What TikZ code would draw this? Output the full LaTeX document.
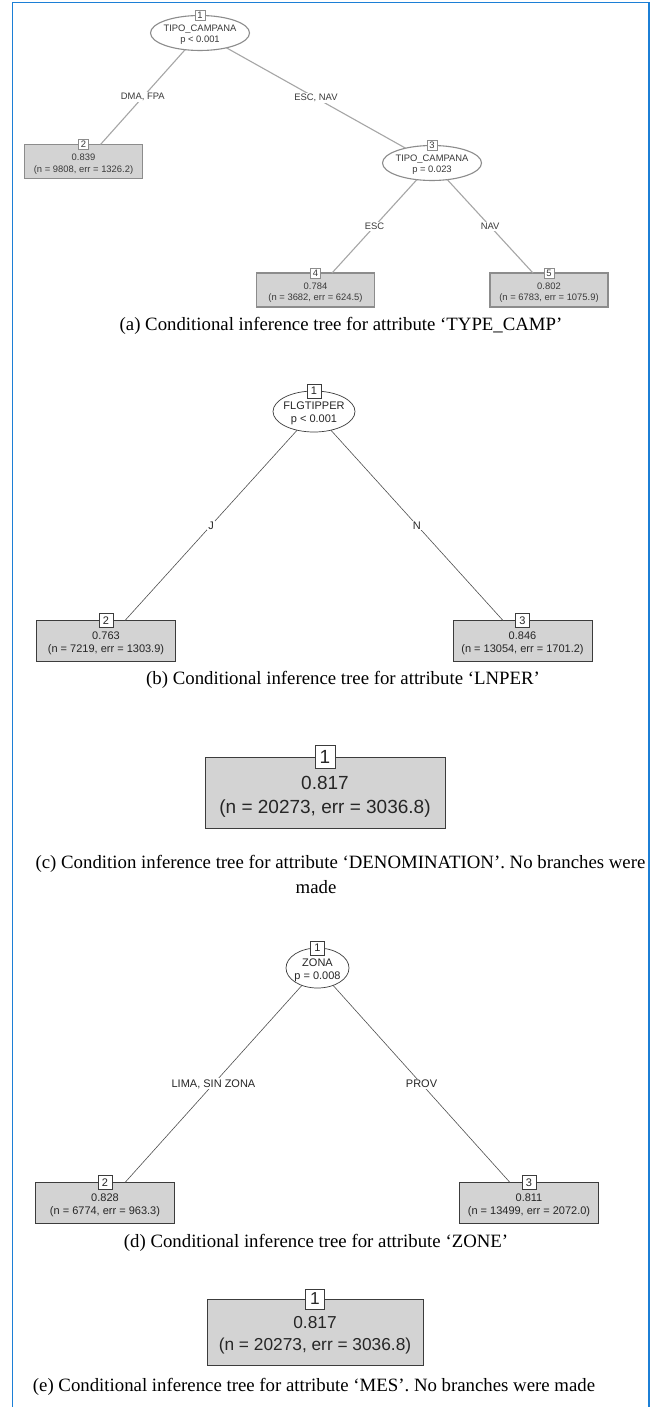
\documentclass[tikz,border=0pt]{standalone}
\usepackage{fontspec}
\setmainfont{Liberation Serif}
\newfontfamily\rf{Liberation Sans}
\usetikzlibrary{shapes.geometric,calc}
\definecolor{frameblue}{HTML}{1C7FD6}
\definecolor{leafgray}{HTML}{D3D3D3}
\definecolor{edgeA}{HTML}{A6A6A6}
\definecolor{bordA}{HTML}{8C8C8C}
\definecolor{txtA}{HTML}{3A3A3A}
\definecolor{bordB}{HTML}{3C3C3C}
\definecolor{edgeB}{HTML}{505050}
\begin{document}
\begin{tikzpicture}[x=1pt,y=-1pt,
  every node/.style={inner sep=0pt,outer sep=0pt},
  captext/.style={font=\fontsize{18.8}{22}\selectfont},
  % tree (a)
  aell/.style={ellipse,draw=bordA,line width=1.1pt,fill=white,minimum width=99pt,minimum height=35pt},
  atxt/.style={font=\rf\fontsize{9.4}{11.5}\selectfont,text=txtA,align=center},
  aleaf/.style={rectangle,draw=bordA,line width=1.3pt,fill=leafgray,minimum width=118pt,minimum height=34pt},
  anum/.style={rectangle,draw=bordA,line width=1pt,fill=white,minimum width=10pt,minimum height=10pt,font=\rf\fontsize{9.4}{10}\selectfont,text=txtA},
  aedge/.style={draw=edgeA,line width=1.1pt},
  alab/.style={fill=white,font=\rf\fontsize{9.4}{10}\selectfont,text=txtA,inner sep=1pt},
  % trees (b),(d)
  bell/.style={ellipse,draw=bordB,line width=0.7pt,fill=white,minimum width=82pt,minimum height=41pt},
  dell/.style={ellipse,draw=bordB,line width=0.7pt,minimum width=63pt,minimum height=40pt},
  btxt/.style={font=\rf\fontsize{11}{13.3}\selectfont,text=black!85,align=center},
  bleaf/.style={rectangle,draw=bordB,line width=0.8pt,fill=leafgray,minimum width=139pt,minimum height=41pt},
  bnum/.style={rectangle,draw=bordB,line width=0.7pt,fill=white,minimum width=14pt,minimum height=14pt,font=\rf\fontsize{11}{12}\selectfont,text=black!85},
  bedge/.style={draw=edgeB,line width=0.6pt},
  blab/.style={fill=white,font=\rf\fontsize{11}{12}\selectfont,text=black!85,inner sep=1pt},
  % single-node trees (c),(e)
  cleaf/.style={rectangle,draw=bordB,line width=1pt,fill=leafgray,minimum width=240pt,minimum height=71pt},
  ctxt/.style={font=\rf\fontsize{19}{24}\selectfont,text=black!85,align=center},
  cnum/.style={rectangle,draw=bordB,line width=1pt,fill=white,minimum width=20pt,minimum height=23pt,font=\rf\fontsize{19}{20}\selectfont,text=black!85},
  eleaf/.style={rectangle,draw=bordB,line width=1pt,fill=leafgray,minimum width=216pt,minimum height=66pt},
  etxt/.style={font=\rf\fontsize{17.3}{22}\selectfont,text=black!85,align=center},
  enumbox/.style={rectangle,draw=bordB,line width=1pt,fill=white,minimum width=19pt,minimum height=20pt,font=\rf\fontsize{17.3}{18}\selectfont,text=black!85}
]
\useasboundingbox (0,0) rectangle (655,1407);
\fill[white] (0,0) rectangle (655,1407);
\draw[frameblue,line width=1.2pt] (12.5,1407) -- (12.5,2.7) -- (649,2.7) -- (649,1407);

% ---------------- (a)
\node[aell] (a1) at (200,33) {};
\node[atxt] (a1t) at ($(a1)+(0,1.5)$) {TIPO\_CAMPANA\\p < 0.001};
\node[aell] (a3) at (432,163) {};
\node[atxt] (a3t) at ($(a3)+(0,1.5)$) {TIPO\_CAMPANA\\p = 0.023};
\node[aleaf] (a2) at (83.5,161.5) {};
\node[atxt] (a2t) at ($(a2)+(0,2.5)$) {0.839\\(n = 9808, err = 1326.2)};
\node[aleaf] (a4) at (315.5,290) {};
\node[atxt] (a4t) at ($(a4)+(0,2.5)$) {0.784\\(n = 3682, err = 624.5)};
\node[aleaf] (a5) at (549,290) {};
\node[atxt] (a5t) at ($(a5)+(0,2.5)$) {0.802\\(n = 6783, err = 1075.9)};
\coordinate (a2e) at ($(a2.north)+(17,0)$);
\coordinate (a4e) at ($(a4.north)+(16.5,0)$);
\coordinate (a5e) at ($(a5.north)+(-16,0)$);
\draw[aedge] (a1) -- (a2e) node[midway,alab] {DMA, FPA};
\draw[aedge] (a1) -- (a3) node[midway,alab] {ESC, NAV};
\draw[aedge] (a3) -- (a4e) node[midway,alab] {ESC};
\draw[aedge] (a3) -- (a5e) node[midway,alab] {NAV};
\node[anum] (a1n) at (a1.north) {1};
\node[anum] (a2n) at (a2.north) {2};
\node[anum] (a3n) at (a3.north) {3};
\node[anum] (a4n) at (a4.north) {4};
\node[anum] (a5n) at (a5.north) {5};
\node[captext] (capa) at (341,326) {(a) Conditional inference tree for attribute ‘TYPE\_CAMP’};

% ---------------- (b)
\node[bell] (b1) at (314,411.5) {};
\node[btxt] (b1t) at ($(b1)+(0,2)$) {FLGTIPPER\\p < 0.001};
\node[bleaf] (b2) at (106,641) {};
\node[btxt] (b2t) at ($(b2)+(0,2.5)$) {0.763\\(n = 7219, err = 1303.9)};
\node[bleaf] (b3) at (522.5,641) {};
\node[btxt] (b3t) at ($(b3)+(0,2.5)$) {0.846\\(n = 13054, err = 1701.2)};
\coordinate (b2e) at ($(b2.north)+(19,0)$);
\coordinate (b3e) at ($(b3.north)+(-19.5,0)$);
\draw[bedge] (b1) -- (b2e) node[midway,blab] {J};
\draw[bedge] (b1) -- (b3e) node[midway,blab] {N};
\node[bnum] (b1n) at (b1.north) {1};
\node[bnum] (b2n) at (b2.north) {2};
\node[bnum] (b3n) at (b3.north) {3};
\node[captext] (capb) at (343,680) {(b) Conditional inference tree for attribute ‘LNPER’};

% ---------------- (c)
\node[cleaf] (c1) at (325,792.5) {};
\node[ctxt] (c1t) at ($(c1)+(0,4)$) {0.817\\(n = 20273, err = 3036.8)};
\node[cnum] (c1n) at (c1.north) {1};
\node[captext] (capc1) at (340.5,864) {(c) Condition inference tree for attribute ‘DENOMINATION’. No branches were};
\node[captext] (capc2) at (316,887) {made};

% ---------------- (d)
\node[dell] (d1) at (317.5,968) {};
\node[btxt] (d1t) at ($(d1)+(0,2)$) {ZONA\\p = 0.008};
\node[bleaf] (d2) at (105,1203) {};
\node[btxt] (d2t) at ($(d2)+(0,2.5)$) {0.828\\(n = 6774, err = 963.3)};
\node[bleaf] (d3) at (529,1203) {};
\node[btxt] (d3t) at ($(d3)+(0,2.5)$) {0.811\\(n = 13499, err = 2072.0)};
\coordinate (d2e) at ($(d2.north)+(20,0)$);
\coordinate (d3e) at ($(d3.north)+(-19,0)$);
\draw[bedge] (d1) -- (d2e) node[midway,blab] {LIMA, SIN ZONA};
\draw[bedge] (d1) -- (d3e) node[midway,blab] {PROV};
\node[bnum] (d1n) at (d1.north) {1};
\node[bnum] (d2n) at (d2.north) {2};
\node[bnum] (d3n) at (d3.north) {3};
\node[captext] (capd) at (316,1243) {(d) Conditional inference tree for attribute ‘ZONE’};

% ---------------- (e)
\node[eleaf] (e1) at (315,1332) {};
\node[etxt] (e1t) at ($(e1)+(0,3.5)$) {0.817\\(n = 20273, err = 3036.8)};
\node[enumbox] (e1n) at (e1.north) {1};
\node[captext] (cape) at (314,1387) {(e) Conditional inference tree for attribute ‘MES’. No branches were made};
\end{tikzpicture}
\end{document}
